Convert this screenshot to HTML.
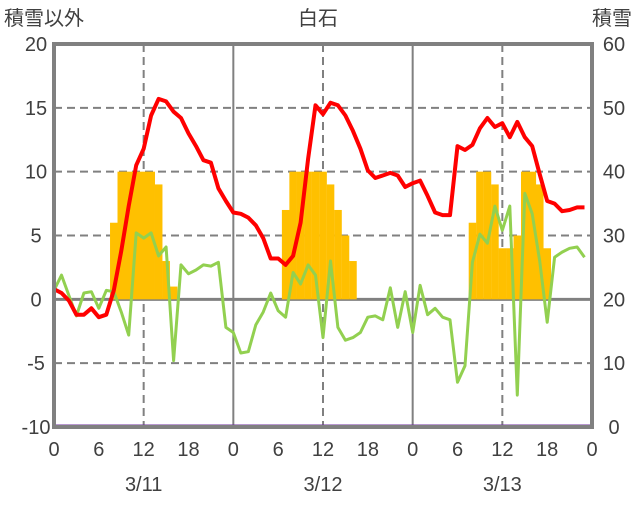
<!DOCTYPE html>
<html><head><meta charset="utf-8"><style>
body{margin:0;background:#fff;width:636px;height:501px;overflow:hidden;font-family:"Liberation Sans","Noto Sans CJK JP",sans-serif}
svg text{font-family:"Liberation Sans","Noto Sans CJK JP",sans-serif;fill:#404040}
</style></head><body>
<svg id="chart" width="636" height="501"></svg>
<script>
const hours=[...Array(72).keys()];
const temperature=[0.8,0.5,-0.1,-1.2,-1.2,-0.7,-1.4,-1.2,0.7,3.8,7.3,10.5,11.8,14.4,15.7,15.5,14.7,14.2,13,12,10.9,10.7,8.7,7.7,
6.8,6.7,6.4,5.8,4.8,3.2,3.2,2.7,3.4,6,11,15.2,14.5,15.4,15.2,14.4,13.2,11.8,10.1,9.5,9.7,9.9,9.7,8.8,
9.1,9.3,8.1,6.8,6.6,6.6,12,11.7,12.1,13.4,14.2,13.5,13.8,12.7,13.9,12.7,12,9.8,7.7,7.5,6.9,7.0,7.2,7.2];
const other=[0.7,1.9,0.3,-1.3,0.5,0.6,-0.7,0.7,0.6,-1,-2.8,5.2,4.8,5.2,3.4,4.1,-4.8,2.7,2,2.3,2.7,2.6,2.9,-2.2,
-2.6,-4.2,-4.1,-2,-1,0.5,-0.9,-1.4,2.1,1.2,2.7,1.9,-3,3,-2.2,-3.2,-3,-2.6,-1.4,-1.3,-1.6,0.9,-2.2,0.6,
-2.6,1.1,-1.2,-0.7,-1.4,-1.6,-6.5,-5.2,2.9,5.1,4.4,7.3,5.4,7.3,-7.5,8.3,6.7,3,-1.8,3.3,3.7,4,4.1,3.3];
const snowHours=[8,9,10,11,12,13,14,15,16,31,32,33,34,35,36,37,38,39,40,56,57,58,59,60,61,62,63,64,65,66];
const snowValues=[32,40,40,40,40,40,38,26,22,34,40,40,40,40,40,38,34,30,26,32,40,40,38,28,28,30,40,40,38,28];
const leftTicks=[-10,-5,0,5,10,15,20];
const rightTicks=[0,10,20,30,40,50,60];
const xTickLabels=["0","6","12","18","0","6","12","18","0","6","12","18","0"];
const dateLabels=["3/11","3/12","3/13"];

const L=54,R=592,T=44,B=427;
const xs=h=>L+(R-L)*h/72;
const yl=v=>B-(v+10)/30*(B-T);
const yr=v=>B-v/60*(B-T);
const svg=document.getElementById('chart');
const NS='http://www.w3.org/2000/svg';
function mk(tag,at,parent){const e=document.createElementNS(NS,tag);for(const k in at)e.setAttribute(k,at[k]);(parent||svg).appendChild(e);return e;}

// bars
snowHours.forEach((h,i)=>{
  const r=mk('rect',{x:xs(h)-3.75,y:yr(snowValues[i]),width:7.6,height:yr(20)-yr(snowValues[i]),fill:'#FFC000'});
  
  
});
// grid
leftTicks.forEach(v=>{
  if(v===-10||v===20)return;
  const g=mk('line',{x1:L,x2:R,y1:yl(v),y2:yl(v),stroke:'#808080','stroke-width':v===0?3:2,'stroke-dasharray':v===0?'':'8,5'});
  
  
});
[12,36,60].forEach(h=>{const g=mk('line',{x1:xs(h),x2:xs(h),y1:T,y2:B,stroke:'#808080','stroke-width':2,'stroke-dasharray':'8,5'});
});
[24,48].forEach(h=>{const g=mk('line',{x1:xs(h),x2:xs(h),y1:T,y2:B,stroke:'#808080','stroke-width':2});
});
// redraw bars over grid? bars are behind grid in reference except bars cover dashes; keep order: move bars to top
svg.querySelectorAll('rect').forEach(r=>svg.appendChild(r));
// lines
function path(arr){return arr.map((v,i)=>(i?'L':'M')+xs(hours[i]).toFixed(1)+','+yl(v).toFixed(1)).join('');}
const gl=mk('path',{d:path(other),fill:'none',stroke:'#92D050','stroke-width':3,'stroke-linejoin':'round'});

const rl=mk('path',{d:path(temperature),fill:'none',stroke:'#FF0000','stroke-width':4,'stroke-linejoin':'round'});

const pl=mk('line',{x1:L,x2:R,y1:B-1,y2:B-1,stroke:'#7030A0','stroke-width':3});

// frame
const fr=mk('rect',{x:L,y:T,width:R-L,height:B-T,fill:'none',stroke:'#808080','stroke-width':4});

// tick labels
leftTicks.forEach(v=>{const t=mk('text',{x:36,y:yl(v)+7,'text-anchor':'middle','font-size':20});t.textContent=v;
});
rightTicks.forEach(v=>{const t=mk('text',{x:614,y:yr(v)+7,'text-anchor':'middle','font-size':20});t.textContent=v;
});
xTickLabels.forEach((s,i)=>{const t=mk('text',{x:xs(i*6),y:456,'text-anchor':'middle','font-size':20});t.textContent=s;
});
dateLabels.forEach((s,i)=>{const t=mk('text',{x:xs(12+24*i),y:491,'text-anchor':'middle','font-size':20});t.textContent=s;
});
// titles
const t1=mk('text',{x:4,y:25,'font-size':20});t1.textContent='積雪以外';

const t2=mk('text',{x:318,y:25,'font-size':20,'text-anchor':'middle'});t2.textContent='白石';

const t3=mk('text',{x:632,y:25,'font-size':20,'text-anchor':'end'});t3.textContent='積雪';

</script>
</body></html>
